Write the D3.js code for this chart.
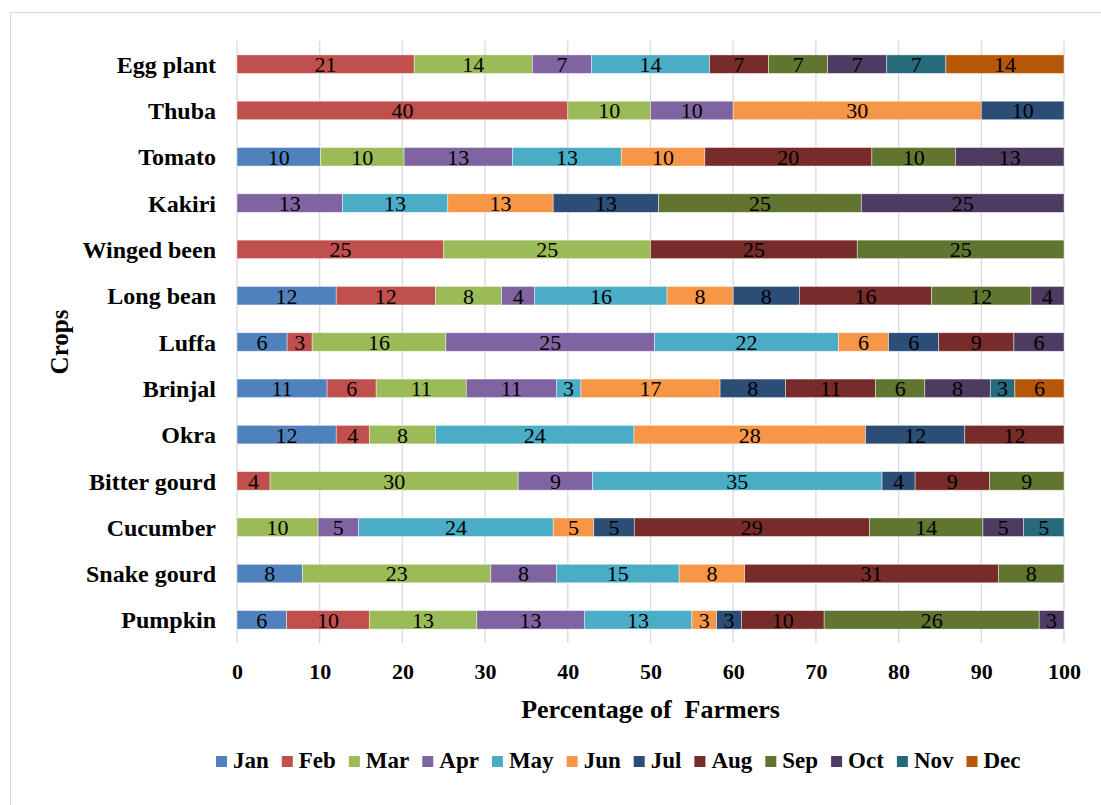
<!DOCTYPE html>
<html>
<head>
<meta charset="utf-8">
<script src="https://cdn.jsdelivr.net/npm/d3@7"></script>
<style>
  html, body { margin: 0; padding: 0; background: #fff; }
  svg { display: block; }
  svg text { font-family: "Liberation Serif", "Times New Roman", serif !important; fill: #000; }
</style>
</head>
<body>
<svg id="chart" width="1101" height="805"></svg>
<script>
// Sowing month shares (% of farmers) per crop, Jan..Dec
const months = ["Jan", "Feb", "Mar", "Apr", "May", "Jun", "Jul", "Aug", "Sep", "Oct", "Nov", "Dec"];
const crops = ["Egg plant", "Thuba", "Tomato", "Kakiri", "Winged been", "Long bean", "Luffa",
               "Brinjal", "Okra", "Bitter gourd", "Cucumber", "Snake gourd", "Pumpkin"];

const eggPlant   = [0, 21, 14, 7, 14, 0, 0, 7, 7, 7, 7, 14];
const thuba      = [0, 40, 10, 10, 0, 30, 10, 0, 0, 0, 0, 0];
const tomato     = [10, 0, 10, 13, 13, 10, 0, 20, 10, 13, 0, 0];
const kakiri     = [0, 0, 0, 13, 13, 13, 13, 0, 25, 25, 0, 0];
const wingedBeen = [0, 25, 25, 0, 0, 0, 0, 25, 25, 0, 0, 0];
const longBean   = [12, 12, 8, 4, 16, 8, 8, 16, 12, 4, 0, 0];
const luffa      = [6, 3, 16, 25, 22, 6, 6, 9, 0, 6, 0, 0];
const brinjal    = [11, 6, 11, 11, 3, 17, 8, 11, 6, 8, 3, 6];
const okra       = [12, 4, 8, 0, 24, 28, 12, 12, 0, 0, 0, 0];
const bitterGourd= [0, 4, 30, 9, 35, 0, 4, 9, 9, 0, 0, 0];
const cucumber   = [0, 0, 10, 5, 24, 5, 5, 29, 14, 5, 5, 0];
const snakeGourd = [8, 0, 23, 8, 15, 8, 0, 31, 8, 0, 0, 0];
const pumpkin    = [6, 10, 13, 13, 13, 3, 3, 10, 26, 3, 0, 0];

const xTicks = [0, 10, 20, 30, 40, 50, 60, 70, 80, 90, 100];

const colors = ["#4F81BD", "#C0504D", "#9BBB59", "#8064A2", "#4BACC6", "#F79646",
                "#2C4D75", "#772C2A", "#5F7530", "#4D3B62", "#276A7C", "#B65708"];

const seriesByCrop = [eggPlant, thuba, tomato, kakiri, wingedBeen, longBean, luffa,
                      brinjal, okra, bitterGourd, cucumber, snakeGourd, pumpkin];

const table = crops.map((c, i) => {
  const row = { crop: c };
  months.forEach((m, j) => { row[m] = seriesByCrop[i][j]; });
  return row;
});

const svg = d3.select("#chart");
const FONT = '"Liberation Serif", "Times New Roman", serif';

// Outer chart frame
svg.append("rect")
  .attr("x", 10.5).attr("y", 12.5)
  .attr("width", 1100).attr("height", 800)
  .attr("fill", "#fff").attr("stroke", "#d9d9d9").attr("stroke-width", 1);

const plot = { left: 237, right: 1064, top: 41, bottom: 643 };

const x = d3.scaleLinear().domain([0, 100]).range([plot.left, plot.right]);
const y = d3.scaleBand().domain(crops).range([plot.top, plot.bottom]).paddingInner(0.6).paddingOuter(0.3);
const color = d3.scaleOrdinal().domain(months).range(colors);

// Vertical gridlines
svg.append("g")
  .selectAll("line")
  .data(xTicks)
  .join("line")
  .attr("x1", d => x(d)).attr("x2", d => x(d))
  .attr("y1", plot.top).attr("y2", plot.bottom)
  .attr("stroke", "#d9d9d9").attr("stroke-width", 1.3);

// 100% stacked bars
const stacked = d3.stack().keys(months).offset(d3.stackOffsetExpand)(table);

const layers = svg.append("g")
  .selectAll("g")
  .data(stacked)
  .join("g")
  .attr("fill", d => color(d.key));

layers.selectAll("rect")
  .data(d => d.filter(s => s.data[d.key] > 0))
  .join("rect")
  .attr("x", s => x(s[0] * 100))
  .attr("width", s => x(s[1] * 100) - x(s[0] * 100))
  .attr("y", s => y(s.data.crop))
  .attr("height", y.bandwidth())
  .attr("stroke", "#ffffff").attr("stroke-opacity", 0.6).attr("stroke-width", 0.7);

// Value labels centred in each segment
layers.each(function (layer) {
  d3.select(this).selectAll("text")
    .data(layer.filter(s => s.data[layer.key] > 0))
    .join("text")
    .attr("x", s => x((s[0] + s[1]) * 50))
    .attr("y", s => y(s.data.crop) + y.bandwidth() / 2)
    .attr("dy", "0.36em")
    .attr("text-anchor", "middle")
    .style("font-family", FONT)
    .style("font-size", "22px")
    .attr("fill", "#000")
    .text(s => s.data[layer.key]);
});

// Crop (category) axis
const yAxis = d3.axisLeft(y).tickSize(0).tickPadding(21);
svg.append("g")
  .attr("transform", `translate(${plot.left},0)`)
  .call(yAxis)
  .call(g => g.select(".domain").remove())
  .selectAll("text")
  .style("font-family", FONT)
  .style("font-size", "24px")
  .style("font-weight", "bold")
  .attr("fill", "#000")
  .attr("dy", "0.36em");

// Percentage axis
const xAxis = d3.axisBottom(x).tickValues(xTicks).tickSize(0).tickPadding(20);
svg.append("g")
  .attr("transform", `translate(0,${plot.bottom})`)
  .call(xAxis)
  .call(g => g.select(".domain").remove())
  .selectAll("text")
  .style("font-family", FONT)
  .style("font-size", "22px")
  .style("font-weight", "bold")
  .attr("fill", "#000");

// Axis titles
svg.append("text")
  .attr("x", (plot.left + plot.right) / 2)
  .attr("y", 718)
  .attr("text-anchor", "middle")
  .style("font-family", FONT)
  .style("font-size", "26px")
  .style("font-weight", "bold")
  .style("white-space", "pre")
  .text("Percentage of  Farmers");

svg.append("text")
  .attr("transform", `translate(68,${(plot.top + plot.bottom) / 2}) rotate(-90)`)
  .attr("text-anchor", "middle")
  .style("font-family", FONT)
  .style("font-size", "25px")
  .style("font-weight", "bold")
  .text("Crops");

// Legend
const legend = svg.append("g").attr("transform", "translate(216,0)");
let lx = 0;
months.forEach(m => {
  const item = legend.append("g").attr("transform", `translate(${lx},0)`);
  item.append("rect")
    .attr("x", 0).attr("y", 756)
    .attr("width", 11).attr("height", 11)
    .attr("fill", color(m));
  const t = item.append("text")
    .attr("x", 17).attr("y", 768)
    .style("font-family", FONT)
    .style("font-size", "23px")
    .style("font-weight", "bold")
    .text(m);
  lx += 17 + t.node().getComputedTextLength() + 13;
});
</script>
</body>
</html>
